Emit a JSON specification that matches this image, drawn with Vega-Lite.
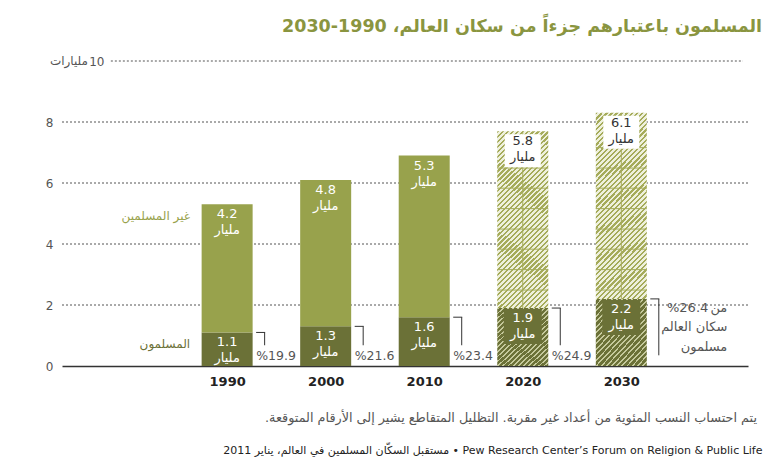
{
"$schema":"https://vega.github.io/schema/vega-lite/v6.json",
"width":686,"height":305,
"autosize":{"type":"none"},
"padding":{"left":62,"top":61,"right":25,"bottom":102},
"background":"white",
"config":{"font":"DejaVu Sans","view":{"stroke":null}},
"resolve":{"axis":{"x":"independent","y":"independent"}},
"title":{"text":"المسلمون باعتبارهم جزءاً من سكان العالم، 1990-2030","anchor":"end","frame":"group","dx":14,"offset":20,"fontSize":17.5,"fontWeight":"bold","color":"#8a9540","font":"DejaVu Sans"},
"datasets":{
"grid":[{"g":2},{"g":4},{"g":6},{"g":8}],
"hatch":[{"year":2020,"level":2.49},{"year":2020,"level":3.16},{"year":2020,"level":3.83},{"year":2020,"level":4.49},{"year":2020,"level":5.16},{"year":2020,"level":5.83},{"year":2020,"level":6.49},
{"year":2030,"level":2.49},{"year":2030,"level":3.16},{"year":2030,"level":3.83},{"year":2030,"level":4.49},{"year":2030,"level":5.16},{"year":2030,"level":5.83},{"year":2030,"level":6.49},{"year":2030,"level":7.16}],
"notes":[{"unit":"مليارات","footer":"يتم احتساب النسب المئوية من أعداد غير مقربة. التظليل المتقاطع يشير إلى الأرقام المتوقعة.\u200f"}],
"pop":[
{"year":1990,"group":"المسلمون","order":1,"value":1.1,"projected":false,"note":"%19.9"},
{"year":1990,"group":"غير المسلمين","order":2,"value":4.2,"projected":false},
{"year":2000,"group":"المسلمون","order":1,"value":1.3,"projected":false,"note":"%21.6"},
{"year":2000,"group":"غير المسلمين","order":2,"value":4.8,"projected":false},
{"year":2010,"group":"المسلمون","order":1,"value":1.6,"projected":false,"note":"%23.4"},
{"year":2010,"group":"غير المسلمين","order":2,"value":5.3,"projected":false},
{"year":2020,"group":"المسلمون","order":1,"value":1.9,"projected":true,"note":"%24.9"},
{"year":2020,"group":"غير المسلمين","order":2,"value":5.8,"projected":true},
{"year":2030,"group":"المسلمون","order":1,"value":2.2,"projected":true,"note":"%26.4","line1":"من","line2":"سكان العالم","line3":"مسلمون"},
{"year":2030,"group":"غير المسلمين","order":2,"value":6.1,"projected":true}
]},
"layer":[
{"data":{"name":"grid"},"mark":{"type":"rule","color":"#555","strokeWidth":1,"strokeDash":[2,2]},
 "encoding":{"y":{"field":"g","type":"quantitative","scale":{"domain":[0,10]},
  "axis":{"values":[0,2,4,6,8,10],"domain":false,"ticks":false,"grid":false,"title":null,"labelColor":"#555","labelFontSize":12,"labelPadding":{"condition":{"test":"datum.value == 10","value":-42},"value":9}}}}},
{"data":{"name":"notes"},"mark":{"type":"rule","color":"#555","strokeWidth":1,"strokeDash":[2,2]},
 "encoding":{"y":{"datum":10,"type":"quantitative","scale":{"domain":[0,10]},"axis":null},
  "x":{"datum":1978.2,"type":"quantitative","scale":{"domain":[1973.75,2042.35]},"axis":null},"x2":{"datum":2042.35}}},
{"data":{"name":"notes"},"mark":{"type":"text","align":"right","baseline":"middle","dx":21,"fontSize":12,"color":"#555"},
 "encoding":{"y":{"datum":10,"type":"quantitative","scale":{"domain":[0,10]},"axis":null},
  "x":{"datum":1973.75,"type":"quantitative","scale":{"domain":[1973.75,2042.35]},"axis":null},"text":{"field":"unit"}}},
{"data":{"name":"notes"},"mark":{"type":"text","align":"right","baseline":"middle","dx":14,"dy":52,"fontSize":12.8,"color":"#555"},
 "encoding":{"y":{"datum":0,"type":"quantitative","scale":{"domain":[0,10]},"axis":null},
  "x":{"datum":2042.35,"type":"quantitative","scale":{"domain":[1973.75,2042.35]},"axis":null},"text":{"field":"footer"}}},
{"data":{"name":"pop"},"transform":[{"stack":"value","groupby":["year"],"sort":[{"field":"order","order":"ascending"}],"as":["v0","v1"]},{"filter":"!datum.projected"}],
 "mark":{"type":"bar","size":51,"orient":"vertical"},
 "encoding":{"x":{"field":"year","type":"quantitative","scale":{"domain":[1973.75,2042.35]},
   "axis":{"values":[1990,2000,2010,2020,2030],"format":"d","ticks":false,"grid":false,"domain":true,"domainColor":"#333","domainWidth":1.5,"labelFontWeight":"bold","labelFontSize":13,"labelColor":"#222","labelPadding":9,"labelFlush":false,
   "title":"مستقبل السكّان المسلمين في العالم، يناير 2011 • Pew Research Center’s Forum on Religion & Public Life",
   "titleX":700,"titleY":84,"titleAnchor":"end","titleAlign":"right","titleBaseline":"middle","titleFontSize":11,"titleFontWeight":"normal","titleColor":"#222","titleLimit":0}},
  "y":{"field":"v0","type":"quantitative","scale":{"domain":[0,10]},"axis":null},"y2":{"field":"v1"},
  "color":{"field":"group","type":"nominal","scale":{"domain":["غير المسلمين","المسلمون"],"range":["#98a24c","#6b7137"]},"legend":null}}},
{"data":{"name":"pop"},"transform":[{"stack":"value","groupby":["year"],"sort":[{"field":"order","order":"ascending"}],"as":["v0","v1"]},{"filter":"datum.projected && datum.order == 2"}],
 "mark":{"type":"bar","size":51,"orient":"vertical","color":{"gradient":"linear","x1":0,"y1":0,"x2":0.334,"y2":1.188,"stops":[
{"offset":0,"color":"#a5ab5a"},{"offset":0.0098,"color":"#a5ab5a"},{"offset":0.0098,"color":"#eef0dc"},{"offset":0.0217,"color":"#eef0dc"},
{"offset":0.0217,"color":"#a5ab5a"},{"offset":0.0315,"color":"#a5ab5a"},{"offset":0.0315,"color":"#eef0dc"},{"offset":0.0435,"color":"#eef0dc"},
{"offset":0.0435,"color":"#a5ab5a"},{"offset":0.0533,"color":"#a5ab5a"},{"offset":0.0533,"color":"#eef0dc"},{"offset":0.0652,"color":"#eef0dc"},
{"offset":0.0652,"color":"#a5ab5a"},{"offset":0.0750,"color":"#a5ab5a"},{"offset":0.0750,"color":"#eef0dc"},{"offset":0.0870,"color":"#eef0dc"},
{"offset":0.0870,"color":"#a5ab5a"},{"offset":0.0968,"color":"#a5ab5a"},{"offset":0.0968,"color":"#eef0dc"},{"offset":0.1087,"color":"#eef0dc"},
{"offset":0.1087,"color":"#a5ab5a"},{"offset":0.1185,"color":"#a5ab5a"},{"offset":0.1185,"color":"#eef0dc"},{"offset":0.1304,"color":"#eef0dc"},
{"offset":0.1304,"color":"#a5ab5a"},{"offset":0.1402,"color":"#a5ab5a"},{"offset":0.1402,"color":"#eef0dc"},{"offset":0.1522,"color":"#eef0dc"},
{"offset":0.1522,"color":"#a5ab5a"},{"offset":0.1620,"color":"#a5ab5a"},{"offset":0.1620,"color":"#eef0dc"},{"offset":0.1739,"color":"#eef0dc"},
{"offset":0.1739,"color":"#a5ab5a"},{"offset":0.1837,"color":"#a5ab5a"},{"offset":0.1837,"color":"#eef0dc"},{"offset":0.1957,"color":"#eef0dc"},
{"offset":0.1957,"color":"#a5ab5a"},{"offset":0.2055,"color":"#a5ab5a"},{"offset":0.2055,"color":"#eef0dc"},{"offset":0.2174,"color":"#eef0dc"},
{"offset":0.2174,"color":"#a5ab5a"},{"offset":0.2272,"color":"#a5ab5a"},{"offset":0.2272,"color":"#eef0dc"},{"offset":0.2391,"color":"#eef0dc"},
{"offset":0.2391,"color":"#a5ab5a"},{"offset":0.2489,"color":"#a5ab5a"},{"offset":0.2489,"color":"#eef0dc"},{"offset":0.2609,"color":"#eef0dc"},
{"offset":0.2609,"color":"#a5ab5a"},{"offset":0.2707,"color":"#a5ab5a"},{"offset":0.2707,"color":"#eef0dc"},{"offset":0.2826,"color":"#eef0dc"},
{"offset":0.2826,"color":"#a5ab5a"},{"offset":0.2924,"color":"#a5ab5a"},{"offset":0.2924,"color":"#eef0dc"},{"offset":0.3043,"color":"#eef0dc"},
{"offset":0.3043,"color":"#a5ab5a"},{"offset":0.3141,"color":"#a5ab5a"},{"offset":0.3141,"color":"#eef0dc"},{"offset":0.3261,"color":"#eef0dc"},
{"offset":0.3261,"color":"#a5ab5a"},{"offset":0.3359,"color":"#a5ab5a"},{"offset":0.3359,"color":"#eef0dc"},{"offset":0.3478,"color":"#eef0dc"},
{"offset":0.3478,"color":"#a5ab5a"},{"offset":0.3576,"color":"#a5ab5a"},{"offset":0.3576,"color":"#eef0dc"},{"offset":0.3696,"color":"#eef0dc"},
{"offset":0.3696,"color":"#a5ab5a"},{"offset":0.3794,"color":"#a5ab5a"},{"offset":0.3794,"color":"#eef0dc"},{"offset":0.3913,"color":"#eef0dc"},
{"offset":0.3913,"color":"#a5ab5a"},{"offset":0.4011,"color":"#a5ab5a"},{"offset":0.4011,"color":"#eef0dc"},{"offset":0.4130,"color":"#eef0dc"},
{"offset":0.4130,"color":"#a5ab5a"},{"offset":0.4228,"color":"#a5ab5a"},{"offset":0.4228,"color":"#eef0dc"},{"offset":0.4348,"color":"#eef0dc"},
{"offset":0.4348,"color":"#a5ab5a"},{"offset":0.4446,"color":"#a5ab5a"},{"offset":0.4446,"color":"#eef0dc"},{"offset":0.4565,"color":"#eef0dc"},
{"offset":0.4565,"color":"#a5ab5a"},{"offset":0.4663,"color":"#a5ab5a"},{"offset":0.4663,"color":"#eef0dc"},{"offset":0.4783,"color":"#eef0dc"},
{"offset":0.4783,"color":"#a5ab5a"},{"offset":0.4881,"color":"#a5ab5a"},{"offset":0.4881,"color":"#eef0dc"},{"offset":0.5000,"color":"#eef0dc"},
{"offset":0.5000,"color":"#a5ab5a"},{"offset":0.5098,"color":"#a5ab5a"},{"offset":0.5098,"color":"#eef0dc"},{"offset":0.5217,"color":"#eef0dc"},
{"offset":0.5217,"color":"#a5ab5a"},{"offset":0.5315,"color":"#a5ab5a"},{"offset":0.5315,"color":"#eef0dc"},{"offset":0.5435,"color":"#eef0dc"},
{"offset":0.5435,"color":"#a5ab5a"},{"offset":0.5533,"color":"#a5ab5a"},{"offset":0.5533,"color":"#eef0dc"},{"offset":0.5652,"color":"#eef0dc"},
{"offset":0.5652,"color":"#a5ab5a"},{"offset":0.5750,"color":"#a5ab5a"},{"offset":0.5750,"color":"#eef0dc"},{"offset":0.5870,"color":"#eef0dc"},
{"offset":0.5870,"color":"#a5ab5a"},{"offset":0.5968,"color":"#a5ab5a"},{"offset":0.5968,"color":"#eef0dc"},{"offset":0.6087,"color":"#eef0dc"},
{"offset":0.6087,"color":"#a5ab5a"},{"offset":0.6185,"color":"#a5ab5a"},{"offset":0.6185,"color":"#eef0dc"},{"offset":0.6304,"color":"#eef0dc"},
{"offset":0.6304,"color":"#a5ab5a"},{"offset":0.6402,"color":"#a5ab5a"},{"offset":0.6402,"color":"#eef0dc"},{"offset":0.6522,"color":"#eef0dc"},
{"offset":0.6522,"color":"#a5ab5a"},{"offset":0.6620,"color":"#a5ab5a"},{"offset":0.6620,"color":"#eef0dc"},{"offset":0.6739,"color":"#eef0dc"},
{"offset":0.6739,"color":"#a5ab5a"},{"offset":0.6837,"color":"#a5ab5a"},{"offset":0.6837,"color":"#eef0dc"},{"offset":0.6957,"color":"#eef0dc"},
{"offset":0.6957,"color":"#a5ab5a"},{"offset":0.7055,"color":"#a5ab5a"},{"offset":0.7055,"color":"#eef0dc"},{"offset":0.7174,"color":"#eef0dc"},
{"offset":0.7174,"color":"#a5ab5a"},{"offset":0.7272,"color":"#a5ab5a"},{"offset":0.7272,"color":"#eef0dc"},{"offset":0.7391,"color":"#eef0dc"},
{"offset":0.7391,"color":"#a5ab5a"},{"offset":0.7489,"color":"#a5ab5a"},{"offset":0.7489,"color":"#eef0dc"},{"offset":0.7609,"color":"#eef0dc"},
{"offset":0.7609,"color":"#a5ab5a"},{"offset":0.7707,"color":"#a5ab5a"},{"offset":0.7707,"color":"#eef0dc"},{"offset":0.7826,"color":"#eef0dc"},
{"offset":0.7826,"color":"#a5ab5a"},{"offset":0.7924,"color":"#a5ab5a"},{"offset":0.7924,"color":"#eef0dc"},{"offset":0.8043,"color":"#eef0dc"},
{"offset":0.8043,"color":"#a5ab5a"},{"offset":0.8141,"color":"#a5ab5a"},{"offset":0.8141,"color":"#eef0dc"},{"offset":0.8261,"color":"#eef0dc"},
{"offset":0.8261,"color":"#a5ab5a"},{"offset":0.8359,"color":"#a5ab5a"},{"offset":0.8359,"color":"#eef0dc"},{"offset":0.8478,"color":"#eef0dc"},
{"offset":0.8478,"color":"#a5ab5a"},{"offset":0.8576,"color":"#a5ab5a"},{"offset":0.8576,"color":"#eef0dc"},{"offset":0.8696,"color":"#eef0dc"},
{"offset":0.8696,"color":"#a5ab5a"},{"offset":0.8794,"color":"#a5ab5a"},{"offset":0.8794,"color":"#eef0dc"},{"offset":0.8913,"color":"#eef0dc"},
{"offset":0.8913,"color":"#a5ab5a"},{"offset":0.9011,"color":"#a5ab5a"},{"offset":0.9011,"color":"#eef0dc"},{"offset":0.9130,"color":"#eef0dc"},
{"offset":0.9130,"color":"#a5ab5a"},{"offset":0.9228,"color":"#a5ab5a"},{"offset":0.9228,"color":"#eef0dc"},{"offset":0.9348,"color":"#eef0dc"},
{"offset":0.9348,"color":"#a5ab5a"},{"offset":0.9446,"color":"#a5ab5a"},{"offset":0.9446,"color":"#eef0dc"},{"offset":0.9565,"color":"#eef0dc"},
{"offset":0.9565,"color":"#a5ab5a"},{"offset":0.9663,"color":"#a5ab5a"},{"offset":0.9663,"color":"#eef0dc"},{"offset":0.9783,"color":"#eef0dc"},
{"offset":0.9783,"color":"#a5ab5a"},{"offset":0.9881,"color":"#a5ab5a"},{"offset":0.9881,"color":"#eef0dc"},{"offset":1,"color":"#eef0dc"}]}},
 "encoding":{"x":{"field":"year","type":"quantitative","scale":{"domain":[1973.75,2042.35]},"axis":null},
  "y":{"field":"v0","type":"quantitative","scale":{"domain":[0,10]},"axis":null},"y2":{"field":"v1"}}},
{"data":{"name":"pop"},"transform":[{"stack":"value","groupby":["year"],"sort":[{"field":"order","order":"ascending"}],"as":["v0","v1"]},{"filter":"datum.projected && datum.order == 1"}],
 "mark":{"type":"bar","size":51,"orient":"vertical","color":{"gradient":"linear","x1":0,"y1":0,"x2":0.89,"y2":1.09,"stops":[
{"offset":0,"color":"#c5c99c"},{"offset":0.0159,"color":"#c5c99c"},{"offset":0.0159,"color":"#6b7137"},{"offset":0.0455,"color":"#6b7137"},
{"offset":0.0455,"color":"#c5c99c"},{"offset":0.0614,"color":"#c5c99c"},{"offset":0.0614,"color":"#6b7137"},{"offset":0.0909,"color":"#6b7137"},
{"offset":0.0909,"color":"#c5c99c"},{"offset":0.1068,"color":"#c5c99c"},{"offset":0.1068,"color":"#6b7137"},{"offset":0.1364,"color":"#6b7137"},
{"offset":0.1364,"color":"#c5c99c"},{"offset":0.1523,"color":"#c5c99c"},{"offset":0.1523,"color":"#6b7137"},{"offset":0.1818,"color":"#6b7137"},
{"offset":0.1818,"color":"#c5c99c"},{"offset":0.1977,"color":"#c5c99c"},{"offset":0.1977,"color":"#6b7137"},{"offset":0.2273,"color":"#6b7137"},
{"offset":0.2273,"color":"#c5c99c"},{"offset":0.2432,"color":"#c5c99c"},{"offset":0.2432,"color":"#6b7137"},{"offset":0.2727,"color":"#6b7137"},
{"offset":0.2727,"color":"#c5c99c"},{"offset":0.2886,"color":"#c5c99c"},{"offset":0.2886,"color":"#6b7137"},{"offset":0.3182,"color":"#6b7137"},
{"offset":0.3182,"color":"#c5c99c"},{"offset":0.3341,"color":"#c5c99c"},{"offset":0.3341,"color":"#6b7137"},{"offset":0.3636,"color":"#6b7137"},
{"offset":0.3636,"color":"#c5c99c"},{"offset":0.3795,"color":"#c5c99c"},{"offset":0.3795,"color":"#6b7137"},{"offset":0.4091,"color":"#6b7137"},
{"offset":0.4091,"color":"#c5c99c"},{"offset":0.4250,"color":"#c5c99c"},{"offset":0.4250,"color":"#6b7137"},{"offset":0.4545,"color":"#6b7137"},
{"offset":0.4545,"color":"#c5c99c"},{"offset":0.4704,"color":"#c5c99c"},{"offset":0.4704,"color":"#6b7137"},{"offset":0.5000,"color":"#6b7137"},
{"offset":0.5000,"color":"#c5c99c"},{"offset":0.5159,"color":"#c5c99c"},{"offset":0.5159,"color":"#6b7137"},{"offset":0.5455,"color":"#6b7137"},
{"offset":0.5455,"color":"#c5c99c"},{"offset":0.5614,"color":"#c5c99c"},{"offset":0.5614,"color":"#6b7137"},{"offset":0.5909,"color":"#6b7137"},
{"offset":0.5909,"color":"#c5c99c"},{"offset":0.6068,"color":"#c5c99c"},{"offset":0.6068,"color":"#6b7137"},{"offset":0.6364,"color":"#6b7137"},
{"offset":0.6364,"color":"#c5c99c"},{"offset":0.6523,"color":"#c5c99c"},{"offset":0.6523,"color":"#6b7137"},{"offset":0.6818,"color":"#6b7137"},
{"offset":0.6818,"color":"#c5c99c"},{"offset":0.6977,"color":"#c5c99c"},{"offset":0.6977,"color":"#6b7137"},{"offset":0.7273,"color":"#6b7137"},
{"offset":0.7273,"color":"#c5c99c"},{"offset":0.7432,"color":"#c5c99c"},{"offset":0.7432,"color":"#6b7137"},{"offset":0.7727,"color":"#6b7137"},
{"offset":0.7727,"color":"#c5c99c"},{"offset":0.7886,"color":"#c5c99c"},{"offset":0.7886,"color":"#6b7137"},{"offset":0.8182,"color":"#6b7137"},
{"offset":0.8182,"color":"#c5c99c"},{"offset":0.8341,"color":"#c5c99c"},{"offset":0.8341,"color":"#6b7137"},{"offset":0.8636,"color":"#6b7137"},
{"offset":0.8636,"color":"#c5c99c"},{"offset":0.8795,"color":"#c5c99c"},{"offset":0.8795,"color":"#6b7137"},{"offset":0.9091,"color":"#6b7137"},
{"offset":0.9091,"color":"#c5c99c"},{"offset":0.9250,"color":"#c5c99c"},{"offset":0.9250,"color":"#6b7137"},{"offset":0.9545,"color":"#6b7137"},
{"offset":0.9545,"color":"#c5c99c"},{"offset":0.9704,"color":"#c5c99c"},{"offset":0.9704,"color":"#6b7137"},{"offset":1,"color":"#6b7137"}]}},
 "encoding":{"x":{"field":"year","type":"quantitative","scale":{"domain":[1973.75,2042.35]},"axis":null},
  "y":{"field":"v0","type":"quantitative","scale":{"domain":[0,10]},"axis":null},"y2":{"field":"v1"}}},
{"data":{"name":"pop"},"transform":[{"stack":"value","groupby":["year"],"sort":[{"field":"order","order":"ascending"}],"as":["v0","v1"]},{"filter":"datum.projected && datum.order == 2"}],
 "mark":{"type":"rule","color":"#a5ab5a","strokeWidth":1},
 "encoding":{"x":{"field":"year","type":"quantitative","scale":{"domain":[1973.75,2042.35]},"axis":null},
  "y":{"field":"v0","type":"quantitative","scale":{"domain":[0,10]},"axis":null},"y2":{"field":"v1"}}},
{"data":{"name":"hatch"},
 "mark":{"type":"rule","color":"#a5ab5a","strokeWidth":1,"xOffset":-25.5,"x2Offset":25.5},
 "encoding":{"x":{"field":"year","type":"quantitative","scale":{"domain":[1973.75,2042.35]},"axis":null},"x2":{"field":"year"},
  "y":{"field":"level","type":"quantitative","scale":{"domain":[0,10]},"axis":null}}},
{"data":{"name":"pop"},"transform":[{"stack":"value","groupby":["year"],"sort":[{"field":"order","order":"ascending"}],"as":["v0","v1"]},{"filter":"datum.projected && datum.order == 2"}],
 "mark":{"type":"bar","size":36,"orient":"vertical","color":"white","yOffset":3,"y2Offset":36},
 "encoding":{"x":{"field":"year","type":"quantitative","scale":{"domain":[1973.75,2042.35]},"axis":null},
  "y":{"field":"v1","type":"quantitative","scale":{"domain":[0,10]},"axis":null},"y2":{"field":"v1"}}},
{"data":{"name":"pop"},"transform":[{"stack":"value","groupby":["year"],"sort":[{"field":"order","order":"ascending"}],"as":["v0","v1"]},{"filter":"datum.projected && datum.order == 1"}],
 "mark":{"type":"bar","size":38,"orient":"vertical","color":"#6b7137","yOffset":1,"y2Offset":36},
 "encoding":{"x":{"field":"year","type":"quantitative","scale":{"domain":[1973.75,2042.35]},"axis":null},
  "y":{"field":"v1","type":"quantitative","scale":{"domain":[0,10]},"axis":null},"y2":{"field":"v1"}}},
{"data":{"name":"pop"},"transform":[{"stack":"value","groupby":["year"],"sort":[{"field":"order","order":"ascending"}],"as":["v0","v1"]}],
 "mark":{"type":"text","baseline":"middle","align":"center","dy":10,"fontSize":13},
 "encoding":{"x":{"field":"year","type":"quantitative","scale":{"domain":[1973.75,2042.35]},"axis":null},
  "y":{"field":"v1","type":"quantitative","scale":{"domain":[0,10]},"axis":null},
  "text":{"field":"value","type":"quantitative","format":".1f"},
  "color":{"condition":{"test":"datum.projected && datum.order == 2","value":"#333333"},"value":"white"}}},
{"data":{"name":"pop"},"transform":[{"stack":"value","groupby":["year"],"sort":[{"field":"order","order":"ascending"}],"as":["v0","v1"]}],
 "mark":{"type":"text","baseline":"middle","align":"center","dy":26,"fontSize":13},
 "encoding":{"x":{"field":"year","type":"quantitative","scale":{"domain":[1973.75,2042.35]},"axis":null},
  "y":{"field":"v1","type":"quantitative","scale":{"domain":[0,10]},"axis":null},
  "text":{"value":"مليار"},
  "color":{"condition":{"test":"datum.projected && datum.order == 2","value":"#333333"},"value":"white"}}},
{"data":{"name":"pop"},"transform":[{"stack":"value","groupby":["year"],"sort":[{"field":"order","order":"ascending"}],"as":["v0","v1"]},{"filter":"datum.year == 1990"}],
 "mark":{"type":"text","baseline":"middle","align":"right","dx":-37,"dy":12,"fontSize":12},
 "encoding":{"x":{"field":"year","type":"quantitative","scale":{"domain":[1973.75,2042.35]},"axis":null},
  "y":{"field":"v1","type":"quantitative","scale":{"domain":[0,10]},"axis":null},
  "text":{"field":"group"},
  "color":{"field":"group","type":"nominal","scale":{"domain":["غير المسلمين","المسلمون"],"range":["#98a24c","#6b7137"]},"legend":null}}},
{"data":{"name":"pop"},"transform":[{"stack":"value","groupby":["year"],"sort":[{"field":"order","order":"ascending"}],"as":["v0","v1"]},{"filter":"datum.order == 1"}],
 "mark":{"type":"rule","color":"#333333","strokeWidth":1,"xOffset":29,"x2Offset":38},
 "encoding":{"x":{"field":"year","type":"quantitative","scale":{"domain":[1973.75,2042.35]},"axis":null},"x2":{"field":"year"},
  "y":{"field":"v1","type":"quantitative","scale":{"domain":[0,10]},"axis":null}}},
{"data":{"name":"pop"},"transform":[{"stack":"value","groupby":["year"],"sort":[{"field":"order","order":"ascending"}],"as":["v0","v1"]},{"filter":"datum.order == 1 && datum.year < 2030"}],
 "mark":{"type":"rule","color":"#333333","strokeWidth":1,"xOffset":37.5},
 "encoding":{"x":{"field":"year","type":"quantitative","scale":{"domain":[1973.75,2042.35]},"axis":null},
  "y":{"field":"v1","type":"quantitative","scale":{"domain":[0,10]},"axis":null},"y2":{"datum":0.68}}},
{"data":{"name":"pop"},"transform":[{"stack":"value","groupby":["year"],"sort":[{"field":"order","order":"ascending"}],"as":["v0","v1"]},{"filter":"datum.order == 1 && datum.year == 2030"}],
 "mark":{"type":"rule","color":"#333333","strokeWidth":1,"xOffset":37.5},
 "encoding":{"x":{"field":"year","type":"quantitative","scale":{"domain":[1973.75,2042.35]},"axis":null},
  "y":{"field":"v1","type":"quantitative","scale":{"domain":[0,10]},"axis":null},"y2":{"datum":0.35}}},
{"data":{"name":"pop"},"transform":[{"filter":"datum.order == 1 && datum.year < 2030"}],
 "mark":{"type":"text","baseline":"middle","align":"left","dx":29,"fontSize":12.5,"color":"#555555"},
 "encoding":{"x":{"field":"year","type":"quantitative","scale":{"domain":[1973.75,2042.35]},"axis":null},
  "y":{"datum":0.33,"type":"quantitative","scale":{"domain":[0,10]},"axis":null},
  "text":{"field":"note"}}},
{"data":{"name":"pop"},"transform":[{"stack":"value","groupby":["year"],"sort":[{"field":"order","order":"ascending"}],"as":["v0","v1"]},{"filter":"datum.order == 1 && datum.year == 2030"}],
 "mark":{"type":"text","baseline":"middle","align":"right","dx":87,"dy":9,"fontSize":13,"color":"#555555"},
 "encoding":{"x":{"field":"year","type":"quantitative","scale":{"domain":[1973.75,2042.35]},"axis":null},
  "y":{"field":"v1","type":"quantitative","scale":{"domain":[0,10]},"axis":null},
  "text":{"field":"note"}}},
{"data":{"name":"pop"},"transform":[{"stack":"value","groupby":["year"],"sort":[{"field":"order","order":"ascending"}],"as":["v0","v1"]},{"filter":"datum.order == 1 && datum.year == 2030"}],
 "mark":{"type":"text","baseline":"middle","align":"right","dx":106,"dy":9,"fontSize":13,"color":"#555555"},
 "encoding":{"x":{"field":"year","type":"quantitative","scale":{"domain":[1973.75,2042.35]},"axis":null},
  "y":{"field":"v1","type":"quantitative","scale":{"domain":[0,10]},"axis":null},
  "text":{"field":"line1"}}},
{"data":{"name":"pop"},"transform":[{"stack":"value","groupby":["year"],"sort":[{"field":"order","order":"ascending"}],"as":["v0","v1"]},{"filter":"datum.order == 1 && datum.year == 2030"}],
 "mark":{"type":"text","baseline":"middle","align":"right","dx":106,"dy":28,"fontSize":13,"color":"#555555"},
 "encoding":{"x":{"field":"year","type":"quantitative","scale":{"domain":[1973.75,2042.35]},"axis":null},
  "y":{"field":"v1","type":"quantitative","scale":{"domain":[0,10]},"axis":null},
  "text":{"field":"line2"}}},
{"data":{"name":"pop"},"transform":[{"stack":"value","groupby":["year"],"sort":[{"field":"order","order":"ascending"}],"as":["v0","v1"]},{"filter":"datum.order == 1 && datum.year == 2030"}],
 "mark":{"type":"text","baseline":"middle","align":"right","dx":106,"dy":48,"fontSize":13,"color":"#555555"},
 "encoding":{"x":{"field":"year","type":"quantitative","scale":{"domain":[1973.75,2042.35]},"axis":null},
  "y":{"field":"v1","type":"quantitative","scale":{"domain":[0,10]},"axis":null},
  "text":{"field":"line3"}}}
]
}
